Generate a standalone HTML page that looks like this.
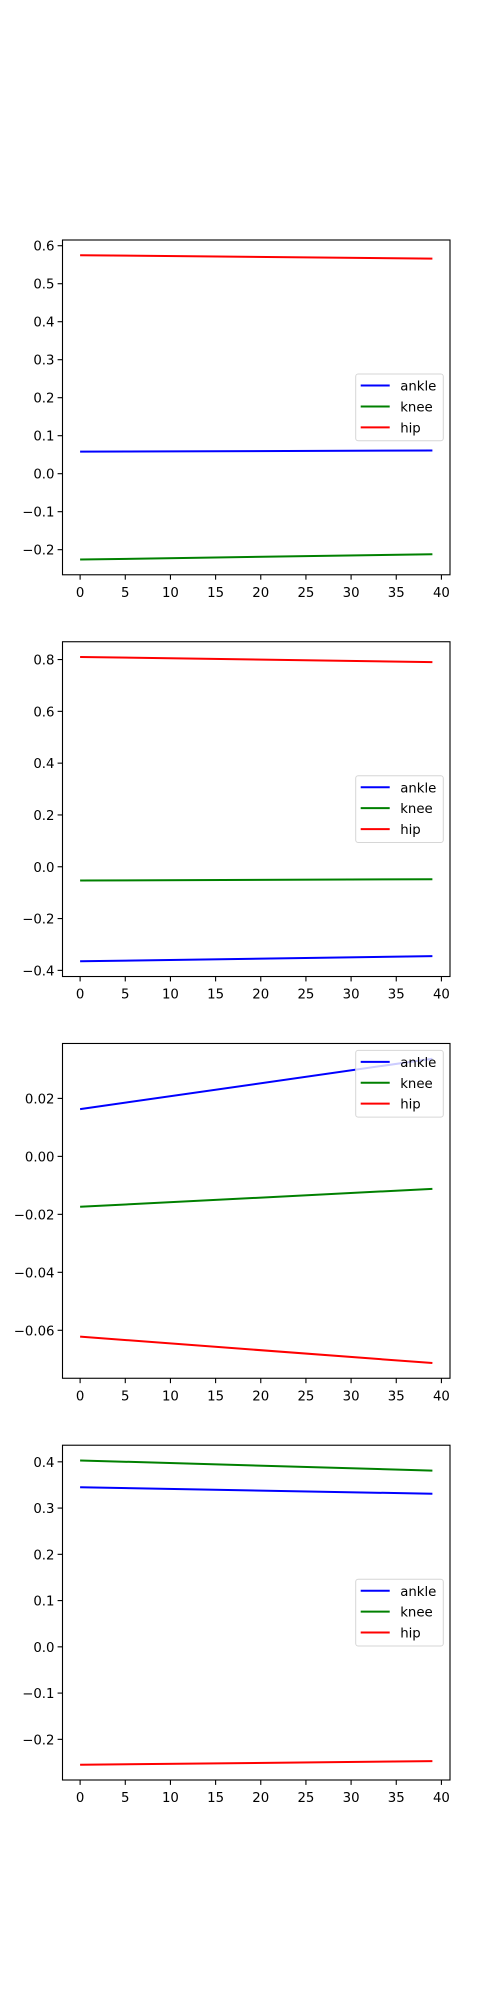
<!DOCTYPE html>
<html><head><meta charset="utf-8"><style>
html,body{margin:0;padding:0;background:#fff;}
svg{display:block;font-family:"DejaVu Sans","Liberation Sans",sans-serif;}
</style></head><body>
<svg id="fig" width="500" height="2000" viewBox="0 0 500 2000" xmlns="http://www.w3.org/2000/svg"></svg>
<script>
// x values (frame index) shared by all series
const xVals = [0, 39];
// chart 1
const c1Ankle = [0.058, 0.061];
const c1Knee = [-0.226, -0.212];
const c1Hip = [0.575, 0.566];
const c1Ticks = [-0.2, -0.1, 0.0, 0.1, 0.2, 0.3, 0.4, 0.5, 0.6];
// chart 2
const c2Ankle = [-0.365, -0.345];
const c2Knee = [-0.053, -0.048];
const c2Hip = [0.81, 0.79];
const c2Ticks = [-0.4, -0.2, 0.0, 0.2, 0.4, 0.6, 0.8];
// chart 3
const c3Ankle = [0.0163, 0.0337];
const c3Knee = [-0.0174, -0.0112];
const c3Hip = [-0.0622, -0.0713];
const c3Ticks = [-0.06, -0.04, -0.02, 0.00, 0.02];
// chart 4
const c4Ankle = [0.345, 0.331];
const c4Knee = [0.403, 0.381];
const c4Hip = [-0.255, -0.247];
const c4Ticks = [-0.2, -0.1, 0.0, 0.1, 0.2, 0.3, 0.4];
const xTicks = [0, 5, 10, 15, 20, 25, 30, 35, 40];
const seriesNames = ["ankle", "knee", "hip"];

const NS = "http://www.w3.org/2000/svg";
const fig = document.getElementById("fig");
function mk(tag, attrs, parent) {
  const e = document.createElementNS(NS, tag);
  for (const k in attrs) e.setAttribute(k, attrs[k]);
  (parent || fig).appendChild(e);
  return e;
}
const colors = ["#0000ff", "#008000", "#ff0000"];
const L = 62.5, R = 450, H = 334.78, GAP = 66.96, TOP = 240;

function drawChart(idx, series, yTicks, decimals, legendPos) {
  const top = TOP + idx * (H + GAP), bot = top + H;
  const g = mk("g", {});
  
  
  let mn = Infinity, mx = -Infinity;
  series.forEach(s => s.forEach(v => { mn = Math.min(mn, v); mx = Math.max(mx, v); }));
  const pad = (mx - mn) * 0.05; const y0 = mn - pad, y1 = mx + pad;
  const xmin = xVals[0], xmax = xVals[xVals.length - 1], xp = (xmax - xmin) * 0.05;
  const xs = v => L + (v - (xmin - xp)) / ((xmax + xp) - (xmin - xp)) * (R - L);
  const ys = v => bot - (v - y0) / (y1 - y0) * H;
  // lines
  series.forEach((s, i) => {
    const pts = s.map((v, j) => xs(xVals[j]).toFixed(2) + "," + ys(v).toFixed(2)).join(" ");
    const pl = mk("polyline", {points: pts, fill: "none", stroke: colors[i], "stroke-width": 2}, g);
    
    
  });
  // frame
  const fr = mk("rect", {x: L, y: top, width: R - L, height: H, fill: "none", stroke: "#000", "stroke-width": 1.1}, g);
  
  
  // y ticks
  yTicks.forEach(t => {
    const y = ys(t);
    mk("line", {x1: L - 4.9, x2: L, y1: y, y2: y, stroke: "#000", "stroke-width": 1.1}, g);
    const tx = mk("text", {x: L - 8, y: y + 5, "text-anchor": "end", "font-size": 13.3, fill: "#000"}, g);
    tx.textContent = (t < 0 ? "\u2212" : "") + Math.abs(t).toFixed(decimals);
    
    
  });
  // x ticks
  xTicks.forEach(t => {
    const x = xs(t);
    mk("line", {x1: x, x2: x, y1: bot, y2: bot + 4.9, stroke: "#000", "stroke-width": 1.1}, g);
    const tx = mk("text", {x: x, y: bot + 22, "text-anchor": "middle", "font-size": 13.3, fill: "#000"}, g);
    tx.textContent = String(t);
    
    
  });
  // legend
  const lw = 87.6, lh = 66.7, lx = R - 6.7 - lw;
  const ly = legendPos === "upper" ? top + 6.9 : top + H / 2 - lh / 2;
  const lg = mk("g", {}, g);
  
  
  mk("rect", {x: lx, y: ly, width: lw, height: lh, rx: 2.5, fill: "#fff", "fill-opacity": 0.8, stroke: "#d6d6d6", "stroke-width": 1}, lg);
  seriesNames.forEach((n, i) => {
    const cy = ly + 11.5 + i * 20.9;
    mk("line", {x1: lx + 5, x2: lx + 34, y1: cy, y2: cy, stroke: colors[i], "stroke-width": 2}, lg);
    const tx = mk("text", {x: lx + 44.5, y: cy + 5, "font-size": 13.3, fill: "#000"}, lg);
    tx.textContent = n;
    
    
  });
}
drawChart(0, [c1Ankle, c1Knee, c1Hip], c1Ticks, 1, "center");
drawChart(1, [c2Ankle, c2Knee, c2Hip], c2Ticks, 1, "center");
drawChart(2, [c3Ankle, c3Knee, c3Hip], c3Ticks, 2, "upper");
drawChart(3, [c4Ankle, c4Knee, c4Hip], c4Ticks, 1, "center");
</script>
</body></html>
